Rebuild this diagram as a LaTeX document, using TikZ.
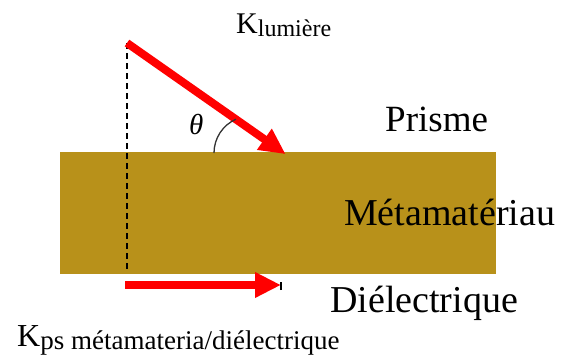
\documentclass[tikz,border=0pt]{standalone}
\usepackage{fontspec}
\setmainfont{Liberation Serif}
\newfontfamily\subfont{Liberation Serif}
\usetikzlibrary{arrows.meta}
\definecolor{gold}{RGB}{184,145,26}
\tikzset{
  redarrow/.style={draw=red, line width=8pt, -{Triangle[length=26pt,width=24pt]}},
  lbl/.style={inner sep=0pt, anchor=base west, text=black, font=\rmfamily},
}
\newcommand{\fs}[1]{\fontsize{#1pt}{#1pt}\selectfont}
\newcommand{\subtxt}[2]{\raisebox{-3pt}{\subfont\fs{#1}#2}}
\begin{document}
\begin{tikzpicture}[x=1pt,y=-1pt]
\useasboundingbox (0,0) rectangle (563,354);
% slab
\fill[gold] (60,152) rectangle (496,274);
% coordinates
\coordinate (src) at (127,43);
\coordinate (hit) at (284,153);
\coordinate (foot) at (127,272);
\coordinate (bs) at (125,285);
\coordinate (be) at (281,285);
\coordinate (arcs) at (214,153);
% dashed normal
\draw[black, line width=1.5pt, dash pattern=on 6pt off 4pt] (src) -- (foot);
% incident arrow
\draw[redarrow, shorten >=-2pt] (src) -- (hit);
% surface plasmon arrow
\draw[redarrow] (bs) -- (be);
\draw[black, line width=2pt] ([yshift=-5pt]be) -- ([yshift=3pt]be);
% angle arc
\draw[black!80, line width=1.3pt] (arcs) arc[start angle=180, end angle=246, radius=37];
% labels
\node[lbl] (theta) at (189,134) {\fs{29}\textit{θ}};
\node[lbl] (klum) at (236,33) {\fs{30}K\subtxt{24}{lumière}};
\node[lbl] (prisme) at (385,131) {\fs{37}Prisme};
\node[lbl] (meta) at (344,225) {\fs{38}Métamatériau};
\node[lbl] (diel) at (330,312) {\fs{38}Diélectrique};
\node[lbl] (kps) at (17,346) {\fs{32}K\subtxt{27}{ps métamateria/diélectrique}};
\end{tikzpicture}
\end{document}
